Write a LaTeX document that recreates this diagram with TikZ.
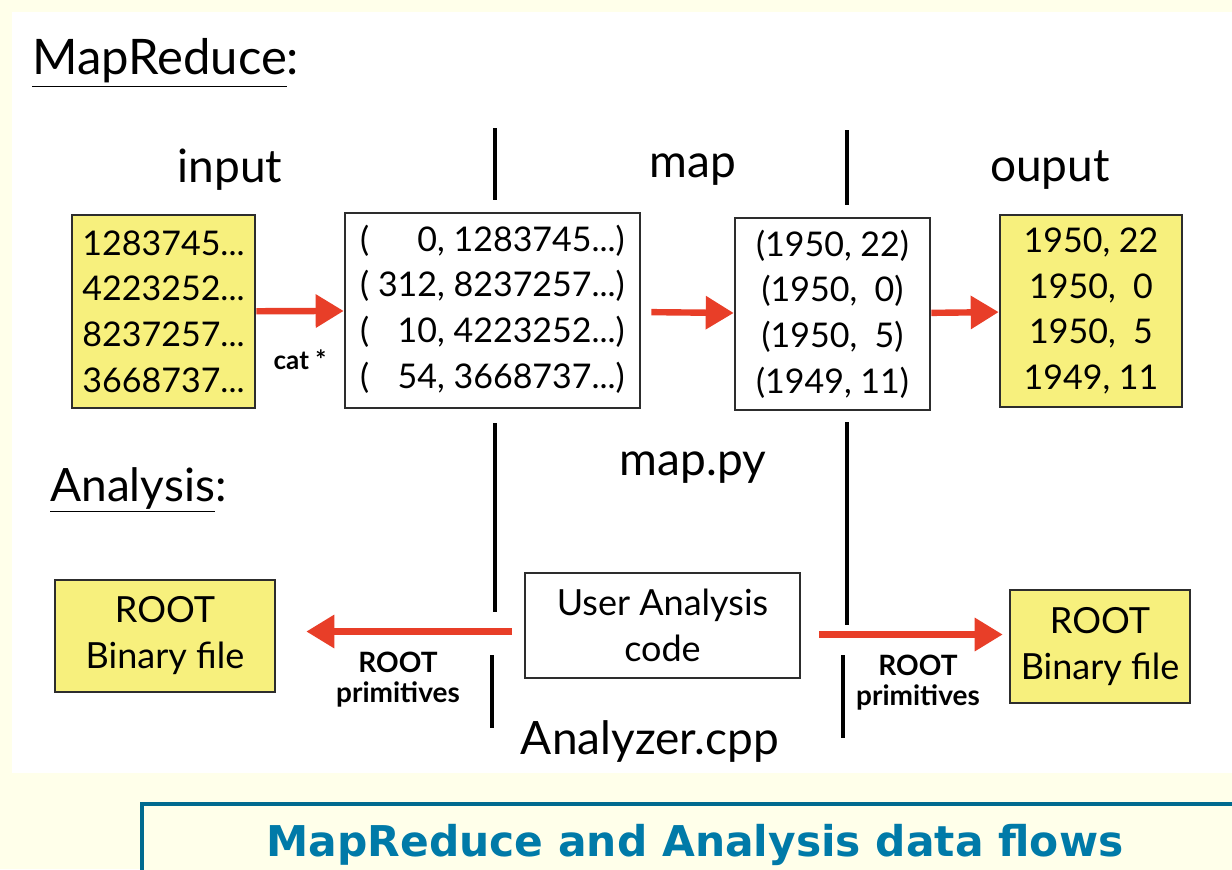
\documentclass[tikz,border=0pt]{standalone}
\usepackage{fontspec}
\setmainfont{Lato}
\newfontfamily\capfont{DejaVu Sans}
\usetikzlibrary{arrows.meta,positioning}

\definecolor{bgcream}{RGB}{255,255,234}
\definecolor{boxyellow}{RGB}{247,240,125}
\definecolor{flowred}{RGB}{232,62,40}
\definecolor{capblue}{RGB}{0,107,143}
\definecolor{captext}{RGB}{0,122,168}
\definecolor{boxline}{RGB}{45,45,45}

\begin{document}
\begin{tikzpicture}[x=0.5pt,y=-0.5pt,
  every node/.style={inner sep=0pt},
  datbox/.style={draw=boxline,line width=1.3pt,fill=boxyellow,align=center,font=\fontsize{17}{22.8}\selectfont},
  keybox/.style={datbox,fill=white},
  flow/.style={-{Triangle[length=14pt,width=16pt]},line width=3.2pt,draw=flowred},
  divider/.style={line width=1.6pt},
  head/.style={font=\fontsize{23}{28}\selectfont},
  tiny/.style={font=\bfseries\fontsize{14}{15}\selectfont,align=center}]
\clip (0,0) rectangle (1232,869);
\fill[bgcream] (0,0) rectangle (1232,869);
\fill[white] (12,12) rectangle (1232,773);

% map-reduce row
\node[head,font=\fontsize{24.5}{28}\selectfont,anchor=west] (mrtitle) at (32,63) {\underline{MapReduce}:};
\node[datbox,minimum width=91.5pt,minimum height=96.5pt] (in) at (163.5,311.5)
  {1283745...\\4223252...\\8237257...\\3668737...};
\node[keybox,minimum width=147.5pt,minimum height=97.5pt] (kv) at (492.5,310.5)
  {\begin{tabular}{@{}l@{\ }r@{,\ }r@{}}
   ( & 0 & 1283745...)\\ ( & 312 & 8237257...)\\ ( & 10 & 4223252...)\\ ( & 54 & 3668737...)
   \end{tabular}};
\node[keybox,minimum width=97.5pt,minimum height=96pt] (pairs) at (832.5,314)
  {(1950, 22)\\(1950, \ 0)\\(1950, \ 5)\\(1949, 11)};
\node[datbox,minimum width=91pt,minimum height=96pt] (out) at (1091,311)
  {1950, 22\\1950, \ 0\\1950, \ 5\\1949, 11};
\node[head] (lin) at (230,170) {input};
\node[head] (lmap) at (693,170) {map};
\node[head] (lout) at (1050,170) {ouput};
\node[tiny,font=\bfseries\fontsize{13}{15}\selectfont] (cat) at (300,360) {cat *};
\node[head] (mappy) at (693,468) {map.py};
\draw[flow] (in) -- (kv);
\draw[flow,shorten <=5pt] (kv) -- (pairs);
\draw[flow] (pairs) -- (out);

% analysis row
\node[head,anchor=west] (antitle) at (50,490) {\underline{Analysis}:};
\node[datbox,font=\fontsize{18}{23}\selectfont,minimum width=110pt,minimum height=56pt] (rootl) at (165,636)
  {ROOT\\Binary file};
\node[keybox,font=\fontsize{18}{23}\selectfont,minimum width=137.5pt,minimum height=52.5pt] (user) at (662.5,625.5)
  {User Analysis\\code};
\node[datbox,font=\fontsize{18}{23}\selectfont,minimum width=90pt,minimum height=56.5pt] (rootr) at (1100,646.5)
  {ROOT\\Binary file};
\node[tiny] (priml) at (398,680) {ROOT\\primitives};
\node[tiny] (primr) at (918,683) {ROOT\\primitives};
\node[head] (ana) at (650,741) {Analyzer.cpp};
\draw[flow,shorten <=6pt,shorten >=15pt] ([yshift=-3pt]user.west) -- ([yshift=-3pt]user.west -| rootl.east);
\draw[flow,shorten <=9pt,shorten >=3pt] ([yshift=-4.5pt]user.east) -- ([yshift=-4.5pt]user.east -| rootr.west);

% dividers
\foreach \x/\a/\b in {495/128/200,495/423/612,492/655/728,847/130/205,847/422/625,843/655/738}
  \draw[divider] (\x,\a) -- (\x,\b);

% caption
\draw[capblue,line width=2pt,fill=bgcream] (142,804) rectangle (1250,890);
\node[font=\capfont\bfseries\fontsize{21.2}{26}\selectfont,text=captext] (cap) at (695,845)
  {MapReduce and Analysis data flows};
\end{tikzpicture}
\end{document}
